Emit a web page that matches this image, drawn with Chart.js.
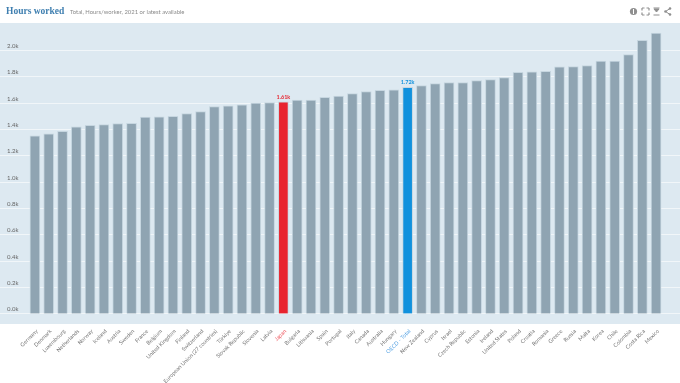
<!DOCTYPE html>
<html>
<head>
<meta charset="utf-8">
<title>Hours worked</title>
<script src="https://cdn.jsdelivr.net/npm/chart.js@4/dist/chart.umd.min.js"></script>
<style>
  html, body { margin: 0; padding: 0; background: #fff; }
  #wrap { position: relative; width: 680px; height: 383px; overflow: hidden; font-family: Lato, sans-serif; }
  #title { position: absolute; left: 6px; top: 6px; font: bold 9.5px "Liberation Serif", serif; color: #3f7fb0; }
  #subtitle { position: absolute; left: 70px; top: 8px; font-size: 5.9px; color: #8a8a8a; }
  #icons { position: absolute; left: 629px; top: 7px; }
  canvas { position: absolute; left: 0; top: 0; }
</style>
</head>
<body>
<div id="wrap">
  <canvas id="js-bar-chart" width="680" height="383"></canvas>
  <div id="title">Hours worked</div>
  <div id="subtitle">Total, Hours/worker, 2021 or latest available</div>
  <svg id="icons" width="44" height="10" viewBox="0 0 44 10">
    <circle cx="4.5" cy="4.5" r="3.6" fill="#8f8f8f"/>
    <rect x="4" y="2" width="1" height="5" fill="#fff"/>
    <path d="M13 1h2.5M13 1v2.5M20 1h-2.5M20 1v2.5M13 8h2.5M13 8v-2.5M20 8h-2.5M20 8v-2.5" stroke="#8f8f8f" stroke-width="1.2" fill="none"/>
    <path d="M24.500 1h6M24.500 8h6M25 2l2.500 3 2.500-3z" stroke="#8f8f8f" stroke-width="1" fill="#8f8f8f"/>
    <path d="M41 1.500L36.500 4.500L41 7.500" stroke="#8f8f8f" stroke-width="1" fill="none"/>
    <circle cx="36.500" cy="4.500" r="1.300" fill="#8f8f8f"/>
    <circle cx="41" cy="1.500" r="1.300" fill="#8f8f8f"/>
    <circle cx="41" cy="7.500" r="1.300" fill="#8f8f8f"/>
  </svg>
</div>
<script>
const categories = ['Germany', 'Denmark', 'Luxembourg', 'Netherlands', 'Norway', 'Iceland', 'Austria', 'Sweden', 'France', 'Belgium', 'United Kingdom', 'Finland', 'Switzerland', 'European Union (27 countries)', 'Türkiye', 'Slovak Republic', 'Slovenia', 'Latvia', 'Japan', 'Bulgaria', 'Lithuania', 'Spain', 'Portugal', 'Italy', 'Canada', 'Australia', 'Hungary', 'OECD - Total', 'New Zealand', 'Cyprus', 'Israel', 'Czech Republic', 'Estonia', 'Ireland', 'United States', 'Poland', 'Croatia', 'Romania', 'Greece', 'Russia', 'Malta', 'Korea', 'Chile', 'Colombia', 'Costa Rica', 'Mexico'];
const hoursWorked = [1349, 1363, 1382, 1417, 1427, 1433, 1442, 1444, 1490, 1493, 1497, 1518, 1533, 1571, 1575, 1583, 1596, 1601, 1607, 1619, 1620, 1641, 1649, 1669, 1685, 1694, 1697, 1716, 1730, 1745, 1753, 1753, 1767, 1775, 1791, 1830, 1834, 1838, 1872, 1874, 1882, 1915, 1916, 1964, 2073, 2128];
const tickValues = [0, 200, 400, 600, 800, 1000, 1200, 1400, 1600, 1800, 2000];
const highlightColors = { 'Japan': '#e8242f', 'OECD - Total': '#1191dd' };
const labelColors = { 'Japan': '#ef5a62', 'OECD - Total': '#5ba5e4' };

const formatK = (value) => (value / 1000).toFixed(value >= 1000 ? 2 : 1) + 'k';

// Panel background and gridlines run the full page width, outside the chart area
const fullWidthPanel = {
  id: 'fullWidthPanel',
  beforeDraw(chart) {
    const ctx = chart.ctx;
    ctx.save();
    ctx.fillStyle = '#dde9f1';
    ctx.fillRect(0, 23, chart.width, 301);
    ctx.strokeStyle = '#f1f6f9';
    ctx.lineWidth = 1;
    tickValues.forEach((value) => {
      const y = Math.round(chart.scales.y.getPixelForValue(value)) + 0.5;
      ctx.beginPath();
      ctx.moveTo(0, y);
      ctx.lineTo(chart.width, y);
      ctx.stroke();
    });
    ctx.restore();
  },
};

// Value labels only above the highlighted bars
const highlightLabels = {
  id: 'highlightLabels',
  afterDatasetsDraw(chart) {
    const ctx = chart.ctx;
    const bars = chart.getDatasetMeta(0).data;
    ctx.save();
    ctx.font = 'bold 5.5px Lato';
    ctx.textAlign = 'center';
    ctx.textBaseline = 'bottom';
    categories.forEach((name, i) => {
      if (!highlightColors[name]) return;
      ctx.fillStyle = highlightColors[name];
      ctx.fillText(formatK(hoursWorked[i]), bars[i].x, bars[i].y - 2);
    });
    ctx.restore();
  },
};

new Chart(document.getElementById('js-bar-chart').getContext('2d'), {
  type: 'bar',
  data: {
    labels: categories,
    datasets: [
      {
        data: hoursWorked,
        backgroundColor: categories.map((name) => highlightColors[name] || '#8fa4b2'),
        borderColor: '#c6d6e0',
        borderWidth: 1,
        barThickness: 10,
      },
    ],
  },
  options: {
    responsive: false,
    animation: false,
    layout: { padding: { top: 24, right: 17, left: 7, bottom: 0 } },
    plugins: { legend: { display: false }, tooltip: { enabled: false } },
    scales: {
      x: {
        grid: { display: false },
        border: { display: false },
        afterFit: (scale) => { scale.height = 59; },
        ticks: {
          autoSkip: false,
          maxRotation: 45,
          minRotation: 45,
          padding: -4,
          labelOffset: 2,
          font: { family: 'Lato', size: 5.5 },
          color: (ctx) => labelColors[categories[ctx.index]] || '#777777',
        },
      },
      y: {
        min: -80,
        max: 2197,
        grid: { display: false },
        border: { display: false },
        afterFit: (scale) => { scale.width = 21; },
        afterBuildTicks: (scale) => { scale.ticks = tickValues.map((value) => ({ value })); },
        ticks: {
          crossAlign: 'far',
          labelOffset: -4,
          padding: 0,
          font: { family: 'Lato', size: 6 },
          color: '#666666',
          callback: (value) => (value / 1000).toFixed(1) + 'k',
        },
      },
    },
  },
  plugins: [fullWidthPanel, highlightLabels],
});
</script>
</body>
</html>
